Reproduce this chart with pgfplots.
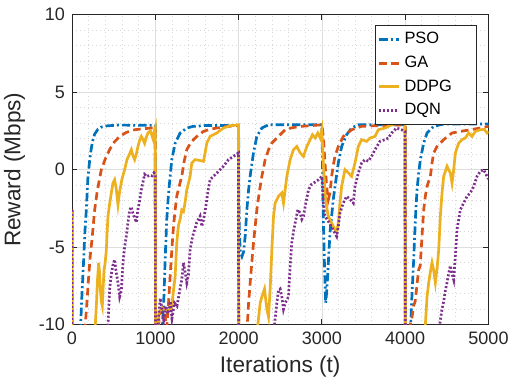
\documentclass[border=0pt]{standalone}
\usepackage{pgfplots}
\pgfplotsset{compat=1.18}
\usepackage{fontspec}
\setmainfont{Liberation Sans}
\definecolor{mblue}{rgb}{0,0.447,0.741}
\definecolor{morange}{rgb}{0.850,0.325,0.098}
\definecolor{myellow}{rgb}{0.929,0.694,0.125}
\definecolor{mpurple}{rgb}{0.494,0.184,0.556}
\definecolor{axgray}{rgb}{0.15,0.15,0.15}
\begin{document}
\begin{tikzpicture}
\begin{axis}[
  name=ax,
  scale only axis,
  width=208.25pt, height=154.9pt,
  xmin=0, xmax=5000, ymin=-10, ymax=10,
  xtick={0,1000,2000,3000,4000,5000},
  ytick={-10,-5,0,5,10},
  minor x tick num=4, minor y tick num=4,
  minor tick length=0pt, major tick length=2.6pt,
  tick align=inside,
  grid=both,
  major grid style={line width=0.4pt, draw=black!13},
  minor grid style={line width=0.4pt, draw=black!16, dash pattern=on 0.5pt off 1.5pt},
  axis line style={draw=axgray, line width=0.5pt},
  every tick/.style={draw=axgray, line width=0.5pt},
  scaled x ticks=false,
  /pgf/number format/1000 sep={},
  /pgf/number format/assume math mode=true,
  tick label style={font=\fontsize{9}{10}\selectfont, text=axgray},
  xlabel={Iterations (t)}, ylabel={Reward (Mbps)},
  label style={font=\fontsize{11.3}{13}\selectfont, text=axgray},
  xlabel style={yshift=1pt},
  legend style={at={(1,1)}, anchor=north east, xshift=-5.75pt, yshift=-5pt,
    font=\fontsize{8.2}{9.5}\selectfont, draw=axgray, line width=0.5pt,
    inner xsep=1pt, inner ysep=1.5pt, row sep=0.6pt},
  legend cell align=left,
  legend image code/.code={\draw[#1] (0pt,0pt) -- (10pt,0pt);},
  clip=true,
]
% PSO
\addplot[mblue, line width=1.35pt, dash pattern=on 4.2pt off 1.5pt on 1pt off 1.5pt] coordinates {
(0,-2.6)(2,-15)(95,-12)(104,-10)(120,-8)(140,-5.8)(155,-4)(172,-2.6)(190,-0.6)(210,0.5)(224,1.1)(245,1.8)(272,2.3)(310,2.6)(352,2.75)(420,2.83)(552,2.88)(800,2.87)(1000,2.86)
(1002,-15)(1070,-12)(1090,-9.6)(1105,-8)(1118,-5.8)(1138,-3.2)(1155,-1.8)(1170,-0.9)(1198,0.65)(1238,1.7)(1298,2.37)(1378,2.69)(1458,2.8)(1600,2.85)(2000,2.85)
(2003,-2)(2010,-4)(2020,-5.3)(2040,-5.6)(2060,-5.3)(2079,-4.3)(2099,-2.6)(2120,-1.3)(2139,-0.4)(2160,0.4)(2179,1.1)(2219,2.15)(2279,2.69)(2359,2.9)(3000,2.9)
(3005,1.5)(3012,-1.5)(3017,-3.2)(3029,-5.8)(3045,-8.6)(3050,-8.4)(3058,-7.8)(3069,-6.9)(3085,-5.2)(3100,-3.9)(3117,-3.0)(3137,-1.9)(3157,-1.1)(3197,0.43)(3237,1.5)(3297,2.26)(3357,2.69)(3437,2.9)(4000,2.9)
(4002,-15)(4050,-12)(4070,-9.5)(4082,-8.0)(4102,-5.8)(4122,-3.2)(4142,-1.3)(4162,-0.2)(4182,0.65)(4222,1.72)(4262,2.37)(4342,2.8)(4462,2.95)(5000,2.95)
};
\addlegendentry{\makebox[33pt][l]{PSO}}
% GA
\addplot[morange, line width=1.35pt, dash pattern=on 3.8pt off 2.2pt] coordinates {
(0,-2.6)(2,-15)(150,-11)(160,-10)(180,-8.5)(200,-6.9)(220,-5.5)(240,-4.5)(272,-2.6)(300,-1.5)(330,-0.6)(352,0)(400,0.7)(452,1.3)(510,1.8)(572,2.15)(650,2.4)(752,2.58)(870,2.65)(972,2.7)(1000,2.72)
(1002,-15)(1030,-11)(1050,-9.3)(1080,-9.0)(1110,-9.2)(1138,-10.2)(1160,-8.5)(1178,-6.9)(1198,-5.2)(1218,-3.7)(1238,-2.6)(1258,-1.7)(1290,-1.0)(1318,-0.43)(1345,0.5)(1378,1.29)(1420,1.7)(1458,1.94)(1520,2.25)(1578,2.47)(1650,2.6)(1738,2.69)(1850,2.78)(1958,2.84)(2000,2.85)
(2002,-15)(2090,-12)(2105,-10)(2120,-8.6)(2139,-7.3)(2160,-5.9)(2179,-4.7)(2200,-3.6)(2219,-2.6)(2250,-1.4)(2279,-0.43)(2319,0.65)(2360,1.3)(2399,1.72)(2479,2.15)(2559,2.58)(2650,2.72)(2759,2.8)(2999,2.9)
(3017,2.15)(3037,0.43)(3057,-1.08)(3077,-1.94)(3097,-1.5)(3117,-0.43)(3137,0.3)(3157,0.86)(3197,1.5)(3257,2.15)(3357,2.58)(3477,2.8)(3700,2.85)(4000,2.9)
(4002,-15)(4040,-12)(4060,-10)(4080,-9.6)(4100,-8.8)(4120,-8.5)(4140,-7.5)(4162,-6.45)(4180,-6.2)(4202,-4.3)(4222,-2.6)(4242,-1.7)(4262,-1.08)(4302,-0.43)(4322,0.43)(4342,1.08)(4382,1.5)(4462,1.94)(4562,2.37)(4662,2.47)(4782,2.58)(4902,2.69)(5000,2.8)
};
\addlegendentry{\makebox[33pt][l]{GA}}
% DDPG
\addplot[myellow, line width=1.35pt] coordinates {
(0,-2.6)(2,-15)(270,-12)(280,-10)(295,-8.5)(304,-7.3)(320,-6.0)(330,-6.6)(340,-7.7)(352,-8.5)(364,-8.8)(375,-7.5)(384,-6.5)(398,-6.0)(412,-5.2)(422,-4.0)(432,-3.0)(452,-2.2)(472,-1.5)(492,-0.86)(512,-0.65)(530,-1.2)(552,-2.26)(572,-1.4)(600,-0.6)(632,0)(660,0.65)(690,1.0)(712,1.29)(732,0.9)(752,0.65)(772,1.0)(792,1.5)(812,1.9)(832,2.15)(852,1.95)(872,1.7)(892,2.1)(912,2.37)(942,2.5)(960,2.2)(972,2.0)(985,2.4)(1000,2.7)
(1002,-15)(1030,-10.5)(1045,-9.2)(1080,-8.9)(1120,-9.0)(1160,-9.1)(1190,-9.0)(1210,-8.2)(1238,-6.9)(1258,-4.7)(1278,-3.6)(1298,-3.2)(1318,-2.6)(1338,-2.7)(1358,-2.1)(1378,-1.29)(1418,-0.43)(1438,0.43)(1478,0.65)(1530,0.6)(1578,0.54)(1598,1.08)(1618,1.72)(1658,2.15)(1738,2.37)(1818,2.69)(1898,2.84)(1998,2.9)
(2002,-15)(2220,-12)(2231,-10)(2259,-8.6)(2280,-8.2)(2311,-7.7)(2339,-9.0)(2359,-9.5)(2379,-7.7)(2399,-5.2)(2419,-3.0)(2439,-2.15)(2479,-1.72)(2519,-1.5)(2539,-2.15)(2579,-0.43)(2619,0.65)(2659,1.29)(2699,1.5)(2739,1.08)(2779,0.86)(2819,1.5)(2859,1.94)(2887,2.26)(2919,2.05)(2951,2.37)(2979,2.05)(2999,2.58)
(3017,0.43)(3037,-1.5)(3057,-2.4)(3077,-3.0)(3117,-3.44)(3157,-3.87)(3177,-4.0)(3197,-3.44)(3217,-2.15)(3237,-1.08)(3277,0)(3317,-0.2)(3357,-0.43)(3397,0.43)(3437,1.5)(3477,1.94)(3537,1.83)(3577,2.04)(3637,2.15)(3677,2.58)(3757,2.69)(3837,2.9)(3917,3.0)(3997,3.0)
(4002,-15)(4230,-12)(4242,-10)(4262,-8.2)(4282,-7.3)(4302,-6.6)(4322,-6.0)(4342,-6.5)(4362,-7.3)(4382,-6.4)(4402,-5.2)(4422,-3.0)(4442,-1.5)(4462,-0.43)(4502,0.22)(4542,-0.22)(4562,-0.86)(4582,0)(4602,1.08)(4642,1.72)(4682,1.94)(4722,2.05)(4762,2.37)(4802,2.15)(4842,2.47)(4902,2.58)(4950,2.6)(4982,2.37)(5000,2.45)
};
\addlegendentry{\makebox[33pt][l]{DDPG}}
% DQN
\addplot[mpurple, line width=1.35pt, dash pattern=on 1pt off 1pt] coordinates {
(0,-2.6)(2,-15)(420,-12)(432,-10)(452,-7.7)(470,-6.8)(490,-6.2)(512,-5.8)(530,-6.6)(552,-7.3)(572,-8.2)(592,-7.8)(612,-6.0)(632,-5.0)(652,-4.3)(672,-3.4)(692,-2.6)(712,-2.4)(730,-2.8)(744,-3.0)(772,-3.4)(790,-2.6)(812,-2.0)(832,-1.3)(852,-0.8)(872,-0.3)(900,-0.45)(930,-0.35)(960,-0.4)(984,-0.2)(1000,-0.3)
(1002,-15)(1040,-9.5)(1060,-8.3)(1080,-9.0)(1100,-9.7)(1120,-8.8)(1150,-9.3)(1180,-8.5)(1200,-9.6)(1230,-8.6)(1260,-8.8)(1280,-8.2)(1300,-7.6)(1318,-7.1)(1338,-6.0)(1358,-6.6)(1378,-7.3)(1398,-6.8)(1418,-5.2)(1440,-4.5)(1458,-4.1)(1478,-3.8)(1498,-3.4)(1538,-3.0)(1558,-3.66)(1580,-3.2)(1600,-2.6)(1618,-1.94)(1638,-1.2)(1658,-0.65)(1698,-0.43)(1738,-0.22)(1778,0)(1818,0.22)(1878,0.65)(1938,0.86)(1998,1.08)
(2002,-15)(2420,-12)(2431,-10)(2459,-8.6)(2479,-7.8)(2499,-7.7)(2519,-8.2)(2539,-9.0)(2559,-8.6)(2599,-8.2)(2619,-6.2)(2639,-4.7)(2659,-4.0)(2679,-3.44)(2711,-2.58)(2739,-2.8)(2759,-3.2)(2779,-3.0)(2807,-2.15)(2839,-1.29)(2871,-0.97)(2919,-0.8)(2959,-0.65)(2999,-0.43)
(3017,-2.15)(3037,-3.0)(3077,-3.33)(3117,-3.7)(3157,-4.1)(3177,-4.3)(3197,-3.66)(3217,-2.8)(3257,-2.15)(3297,-1.72)(3337,-1.9)(3377,-2.15)(3397,-1.08)(3437,-0.22)(3477,0.43)(3517,0.65)(3557,0.55)(3597,0.86)(3637,1.29)(3697,1.83)(3757,1.94)(3797,2.04)(3837,2.37)(3897,2.69)(3957,2.58)(3997,2.47)
(4002,-15)(4400,-12)(4414,-10)(4442,-9.0)(4462,-8.5)(4482,-7.8)(4502,-7.3)(4522,-6.7)(4542,-6.2)(4562,-6.7)(4582,-7.1)(4602,-5.6)(4622,-3.87)(4662,-2.58)(4702,-2.15)(4742,-1.72)(4782,-1.5)(4822,-1.08)(4862,-0.43)(4902,-0.1)(4942,0)(4970,-0.3)(5000,-0.6)
};
\addlegendentry{\makebox[33pt][l]{DQN}}
\end{axis}
\pgfresetboundingbox
\path[use as bounding box] ([shift={(-36pt,-31.75pt)}]ax.south west) rectangle ([shift={(11.25pt,7.4pt)}]ax.north east);
\end{tikzpicture}
\end{document}
